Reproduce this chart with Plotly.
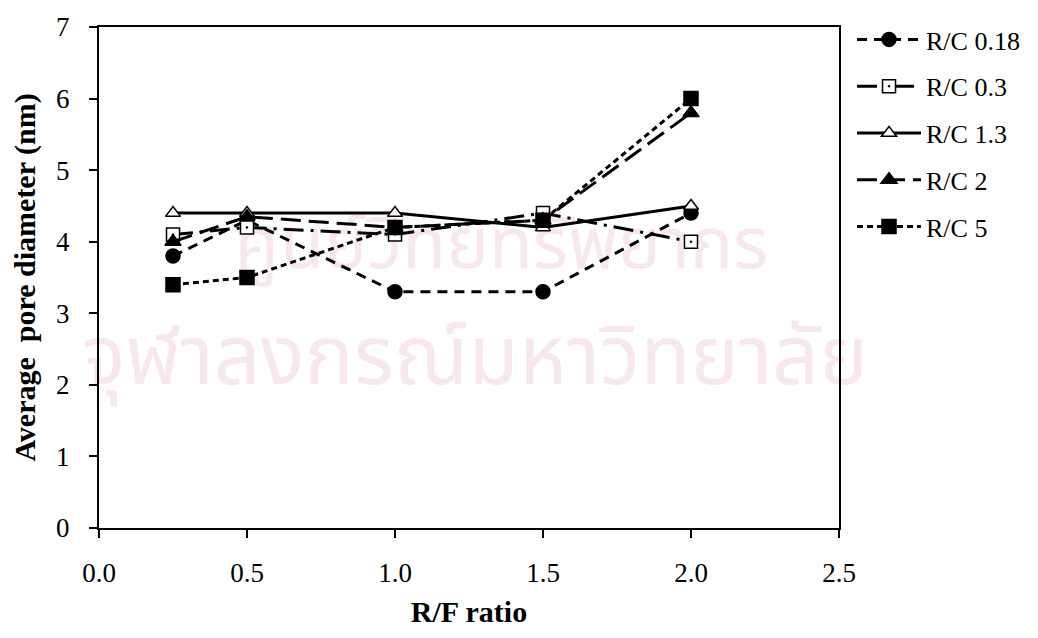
import plotly.graph_objects as go

# R/F ratio values shared by every series
rf_ratio = [0.25, 0.5, 1.0, 1.5, 2.0]

# Average pore diameter (nm) for each R/C ratio
rc_018 = [3.8, 4.3, 3.3, 3.3, 4.4]
rc_03 = [4.1, 4.2, 4.1, 4.4, 4.0]
rc_13 = [4.4, 4.4, 4.4, 4.2, 4.5]
rc_2 = [4.0, 4.35, 4.2, 4.3, 5.8]
rc_5 = [3.4, 3.5, 4.2, 4.3, 6.0]

series_names = ["R/C 0.18", "R/C 0.3", "R/C 1.3", "R/C 2", "R/C 5"]
x_ticks = [0.0, 0.5, 1.0, 1.5, 2.0, 2.5]
y_ticks = [0, 1, 2, 3, 4, 5, 6, 7]

# faint institutional watermark lines behind the data
watermark_lines = ["ศูนย์วิทยทรัพยากร", "จุฬาลงกรณ์มหาวิทยาลัย"]

styles = [
    dict(dash="10px,7px", symbol="circle", size=14, fill="black"),
    dict(dash="20px,7px,3px,7px", symbol="square-dot", size=13, fill="white"),
    dict(dash="solid", symbol="triangle-up", size=13, fill="white"),
    dict(dash="20px,8px", symbol="triangle-up", size=14, fill="black"),
    dict(dash="6px,4px", symbol="square", size=14, fill="black"),
]

serif = "Liberation Serif, Times New Roman, serif"
thai = "Noto Sans Thai, Noto Sans, DejaVu Sans"

fig = go.Figure()

# watermark drawn first so the series sit on top of it
fig.add_trace(go.Scatter(
    x=[1.36], y=[3.88], mode="text", text=[watermark_lines[0]],
    textfont=dict(family=thai, size=72, color="#f8e7ed"),
    showlegend=False, hoverinfo="skip", cliponaxis=False,
))
fig.add_trace(go.Scatter(
    x=[1.27], y=[2.30], mode="text", text=[watermark_lines[1]],
    textfont=dict(family=thai, size=82, color="#f8e7ed"),
    showlegend=False, hoverinfo="skip", cliponaxis=False,
))

for name, ys, st in zip(series_names, [rc_018, rc_03, rc_13, rc_2, rc_5], styles):
    fig.add_trace(go.Scatter(
        x=rf_ratio, y=ys, name=name, mode="lines+markers", legendgroup=name,
        line=dict(color="black", width=3, dash=st["dash"]),
        marker=dict(symbol=st["symbol"], size=st["size"], color=st["fill"],
                    line=dict(color="black", width=1.5)),
    ))

tick_font = dict(family=serif, size=27, color="black")
title_font = dict(family=serif, size=30, color="black")

fig.update_layout(
    width=1038, height=638,
    margin=dict(l=99, r=199, t=23, b=110),
    paper_bgcolor="white", plot_bgcolor="rgba(0,0,0,0)",
    font=dict(family=serif, size=27, color="black"),
    showlegend=True,
    legend=dict(x=1.0176, y=1.022, xanchor="left", yanchor="top",
                font=dict(family=serif, size=26, color="black"),
                tracegroupgap=10, itemwidth=64, borderwidth=0,
                bgcolor="rgba(0,0,0,0)"),
)

fig.update_xaxes(
    range=[0, 2.5], tickvals=x_ticks, ticktext=[f"{v:.1f}" for v in x_ticks],
    tickfont=tick_font,
    ticks="outside", ticklen=8, tickwidth=1.5, tickcolor="black",
    showline=True, linecolor="black", linewidth=2, mirror=True,
    showgrid=False, zeroline=False, ticklabelstandoff=12,
    title=dict(text="<b>R/F ratio</b>", font=title_font, standoff=14),
)
fig.update_yaxes(
    range=[0, 7], tickvals=y_ticks, tickfont=tick_font,
    ticks="outside", ticklen=8, tickwidth=1.5, tickcolor="black",
    showline=True, linecolor="black", linewidth=2, mirror=True,
    showgrid=False, zeroline=False, ticklabelstandoff=14,
    title=dict(text="<b>Average  pore diameter (nm)</b>", font=title_font, standoff=12),
)

fig.write_html("out.html")
